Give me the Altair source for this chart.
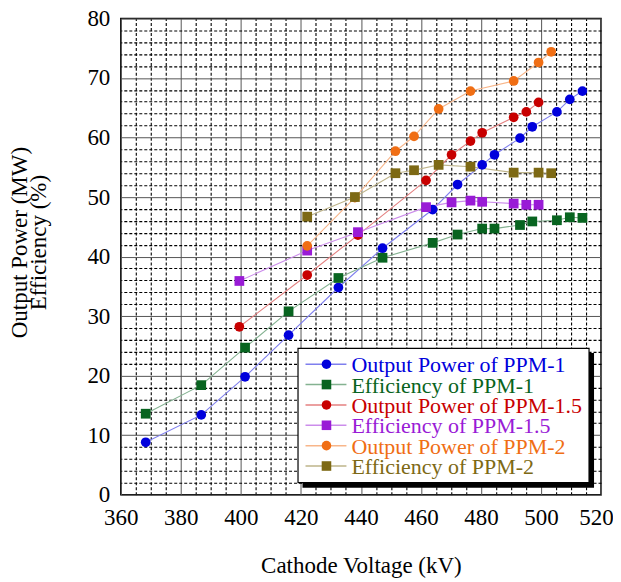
import altair as alt
import pandas as pd

# ---------------- data ----------------
series_names = [
    "Output Power of PPM-1", "Efficiency of PPM-1",
    "Output Power of PPM-1.5", "Efficiency of PPM-1.5",
    "Output Power of PPM-2", "Efficiency of PPM-2",
]
series_kinds = ["power", "eff", "power", "eff", "power", "eff"]
series_colors = ["#0000dc", "#086420", "#c80000", "#991bd6", "#f06e14", "#7d6914"]
line_colors = ["#7f7fee", "#84b291", "#e48080", "#cc8deb", "#f8b68a", "#beb48a"]

v_ppm1 = [368.3, 386.8, 401.4, 415.9, 432.5, 447.2, 463.9, 472.2, 480.4, 484.5, 493.0, 497.1, 505.3, 509.6, 513.8]
p_ppm1 = [8.8, 13.4, 19.8, 26.8, 34.8, 41.4, 47.9, 52.1, 55.4, 57.1, 59.9, 61.8, 64.3, 66.4, 67.8]
e_ppm1 = [13.6, 18.4, 24.7, 30.8, 36.4, 39.8, 42.3, 43.7, 44.7, 44.7, 45.3, 45.9, 46.1, 46.6, 46.5]

v_ppm15 = [399.5, 422.1, 439.0, 461.7, 470.2, 476.5, 480.4, 490.9, 495.1, 499.2]
p_ppm15 = [28.2, 36.9, 43.6, 52.8, 57.1, 59.4, 60.8, 63.4, 64.3, 65.9]
e_ppm15 = [35.9, 41.0, 44.1, 48.3, 49.1, 49.4, 49.2, 48.9, 48.7, 48.7]

v_ppm2 = [422.1, 438.0, 451.5, 457.7, 465.9, 476.5, 490.9, 499.2, 503.4]
p_ppm2 = [41.8, 49.9, 57.7, 60.2, 64.8, 67.8, 69.5, 72.6, 74.4]
e_ppm2 = [46.7, 50.0, 54.0, 54.5, 55.4, 55.1, 54.1, 54.1, 54.0]

x_major = [360, 380, 400, 420, 440, 460, 480, 500, 520]
y_major = [0, 10, 20, 30, 40, 50, 60, 70, 80]
x_minor = [v for v in range(360, 521, 5) if v % 20 != 0]
y_minor = [v for v in range(0, 81, 2) if v % 10 != 0]

# ---------------- tables ----------------
rows = []
sets = [(v_ppm1, p_ppm1), (v_ppm1, e_ppm1), (v_ppm15, p_ppm15),
        (v_ppm15, e_ppm15), (v_ppm2, p_ppm2), (v_ppm2, e_ppm2)]
for i, (vs, ys) in enumerate(sets):
    for v, y in zip(vs, ys):
        rows.append({"series": series_names[i], "idx": i, "kind": series_kinds[i],
                     "V": v, "val": y})
df = pd.DataFrame(rows)
legend_df = pd.DataFrame({"series": series_names, "kind": series_kinds})

FONT = "Liberation Serif"
xscale = alt.Scale(domain=[360, 520], nice=False, zero=False)
yscale = alt.Scale(domain=[0, 80], nice=False)
fill_scale = alt.Scale(domain=series_names, range=series_colors)
line_scale = alt.Scale(domain=series_names, range=line_colors)

base = alt.Chart(df)

# minor (dashed) grid
grid_minor = base.transform_filter("false").mark_point(opacity=0).encode(
    x=alt.X("V:Q", scale=xscale, axis=alt.Axis(
        values=x_minor, grid=True, gridColor="black", gridDash=[3, 2], gridWidth=1.1,
        ticks=False, labels=False, domain=False, title=None, orient="top")),
    y=alt.Y("val:Q", scale=yscale, axis=alt.Axis(
        values=y_minor, grid=True, gridColor="black", gridDash=[3, 2], gridWidth=1.1,
        ticks=False, labels=False, domain=False, title=None, orient="right")),
)

lines = base.mark_line(strokeWidth=1.1).encode(
    x=alt.X("V:Q", scale=xscale, axis=None),
    y=alt.Y("val:Q", scale=yscale, axis=None),
    stroke=alt.Stroke("series:N", scale=line_scale, legend=None),
)

points = base.mark_point(filled=True, size=95, opacity=1).encode(
    x=alt.X("V:Q", scale=xscale, axis=alt.Axis(
        values=x_major, grid=True, gridColor="#555555", gridWidth=1, ticks=False, domain=False,
        labelFont=FONT, labelFontSize=23, labelColor="black", labelPadding=12,
        labelFlush=False, labelOverlap=False,
        labelOffset={"condition": {"test": "datum.value == 520", "value": -5}, "value": 0},
        title="Cathode Voltage (kV)", titleFont=FONT, titleFontSize=23, titleFontWeight="normal",
        titleColor="black", titleBaseline="alphabetic", titleX=240.5, titleY=78, titleAlign="center",
        orient="bottom")),
    y=alt.Y("val:Q", scale=yscale, axis=alt.Axis(
        values=y_major, grid=True, gridColor="#555555", gridWidth=1, ticks=False, domain=False,
        labelFont=FONT, labelFontSize=23, labelColor="black", labelPadding=11,
        labelFlush=False, labelOverlap=False,
        title=["Output Power (MW)", "Efficiency (%)"], titleFont=FONT, titleFontSize=23,
        titleFontWeight="normal", titleColor="black", titleBaseline="alphabetic",
        titleLineHeight=18.5, titleX=-94, titleY=224, titleAlign="center", titleAngle=270,
        orient="left")),
    color=alt.Color("series:N", scale=fill_scale, legend=None),
    shape=alt.condition(alt.datum.kind == "power", alt.value("circle"), alt.value("square")),
    order=alt.Order("idx:Q"),
)

# ---------------- legend (drawn as marks) ----------------
leg = alt.Chart(legend_df)
leg_y = alt.Y("series:N", scale=alt.Scale(type="point", domain=series_names,
                                          range=[346.3, 448.3], padding=0), axis=None)
box_df = pd.DataFrame({"b": [0]})
shadow = alt.Chart(box_df).mark_rect(color="black").encode(
    x=alt.value(182), x2=alt.value(474), y=alt.value(335), y2=alt.value(470))
box = alt.Chart(box_df).mark_rect(fill="white", stroke="black", strokeWidth=1.2).encode(
    x=alt.value(177.5), x2=alt.value(469), y=alt.value(330.5), y2=alt.value(465))
leg_lines = leg.mark_rule(strokeWidth=1.5).encode(
    x=alt.value(185), x2=alt.value(226), y=leg_y,
    stroke=alt.Stroke("series:N", scale=line_scale, legend=None))
leg_points = leg.mark_point(filled=True, size=92, opacity=1).encode(
    x=alt.value(206), y=leg_y,
    color=alt.Color("series:N", scale=fill_scale, legend=None),
    shape=alt.condition(alt.datum.kind == "power", alt.value("circle"), alt.value("square")))
leg_text = leg.mark_text(align="left", baseline="middle", font=FONT, fontSize=22, dy=1).encode(
    x=alt.value(231), y=leg_y, text="series:N",
    color=alt.Color("series:N", scale=fill_scale, legend=None))

chart = alt.layer(
    grid_minor, lines, points, shadow, box, leg_lines, leg_points, leg_text
).resolve_scale(y="independent").resolve_axis(
    x="independent", y="independent"
).properties(
    width=481, height=477,
    autosize=alt.AutoSizeParams(type="none"),
    padding={"left": 113, "top": 10, "right": 12, "bottom": 84},
    background="white",
).configure_view(stroke="black", strokeWidth=1.5)

chart.save("out.html", embed_options={"renderer": "svg", "actions": False})
